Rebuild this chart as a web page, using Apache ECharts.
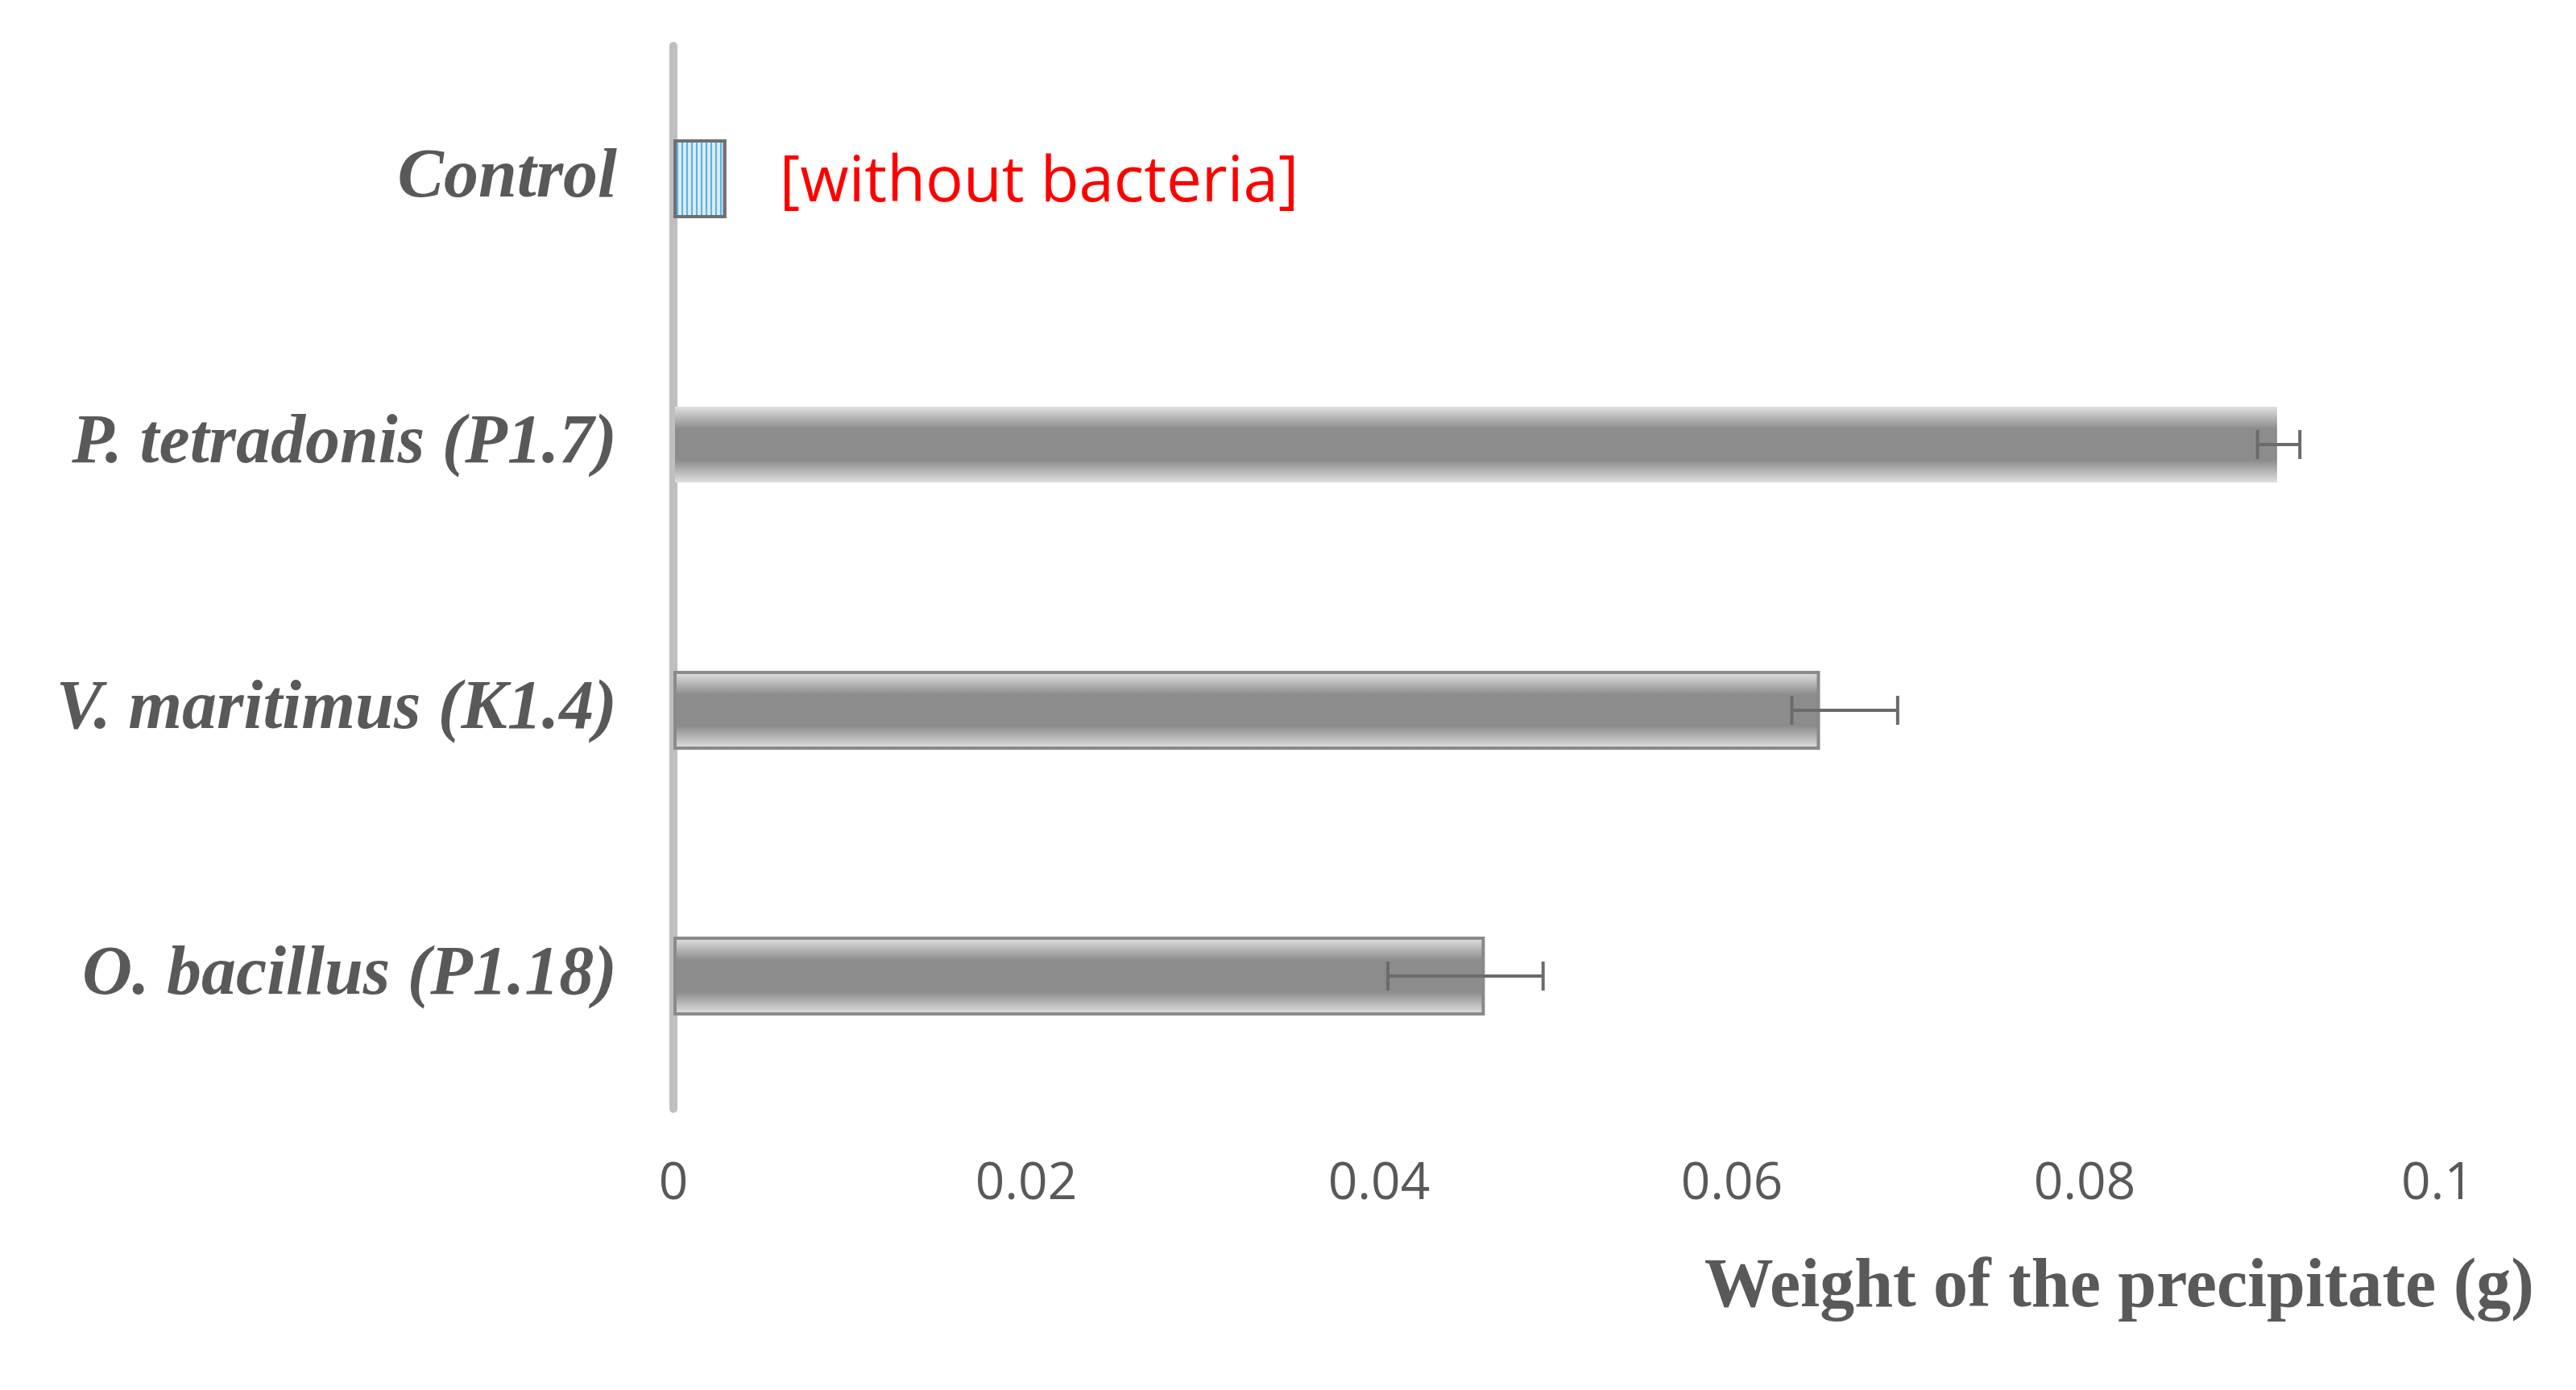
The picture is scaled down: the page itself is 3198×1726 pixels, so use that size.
<!DOCTYPE html>
<html>
<head>
<meta charset="utf-8">
<script src="https://cdn.jsdelivr.net/npm/echarts@6/dist/echarts.min.js"></script>
<style>html,body{margin:0;padding:0;background:#fff}#c{width:3198px;height:1726px}</style>
</head>
<body>
<div id="c"></div>
<script>
var categories = ['Control', 'P. tetradonis (P1.7)', 'V. maritimus (K1.4)', 'O. bacillus (P1.18)'];
var values = [0.003, 0.091, 0.065, 0.046];
var errLow = [null, 0.0898, 0.0634, 0.0405];
var errHigh = [null, 0.0922, 0.0694, 0.0493];
var xTicks = [0, 0.02, 0.04, 0.06, 0.08, 0.1];

var chart = echarts.init(document.getElementById('c'));

var grayFill = new echarts.graphic.LinearGradient(0, 0, 0, 1, [
	{ offset: 0, color: '#e6e6e6' },
	{ offset: 0.3, color: '#8c8c8c' },
	{ offset: 0.7, color: '#8c8c8c' },
	{ offset: 1, color: '#e6e6e6' }
]);

var barData = values.map(function (v, i) {
	if (i == 0) {
		return {
			value: v,
			itemStyle: {
				color: '#d6ecfa', borderColor: '#707070', borderWidth: 4,
				decal: { symbol: 'rect', symbolSize: 1, dashArrayX: [2, 4], dashArrayY: [100, 0], color: '#5fb0e3', rotation: 0 }
			},
			label: {
				show: true, position: 'right', distance: 66,
				formatter: '[without bacteria]', color: '#ff0000',
				fontFamily: 'Open Sans', fontSize: 78, offset: [0, 6]
			}
		};
	}
	return { value: v, itemStyle: { color: grayFill, borderColor: i == 1 ? 'rgba(0,0,0,0)' : '#8a8a8a', borderWidth: 4 } };
});

var errData = [];
for (var i = 0; i < categories.length; i++) {
	if (errLow[i] != null) errData.push([i, errLow[i], errHigh[i]]);
}

chart.setOption({
	backgroundColor: '#ffffff',
	animation: false,
	grid: { left: 836, right: 172, top: 57, bottom: 349 },
	xAxis: {
		type: 'value', min: 0, max: 0.1, interval: 0.02,
		splitLine: { show: false }, axisLine: { show: false }, axisTick: { show: false },
		axisLabel: {
			margin: 62, color: '#595959', fontFamily: 'Open Sans', fontSize: 64,
			formatter: function (v) { return String(Math.round(v * 100) / 100); }
		},
		name: 'Weight of the precipitate (g)', nameLocation: 'end', nameGap: 0,
		nameTextStyle: {
			color: '#595959', fontFamily: 'Liberation Serif', fontWeight: 'bold', fontSize: 86,
			align: 'right', verticalAlign: 'top', padding: [180, -120, 0, 0]
		}
	},
	yAxis: {
		type: 'category', data: categories, inverse: true,
		axisLine: { lineStyle: { color: '#bfbfbf', width: 10 } },
		axisTick: { show: false },
		axisLabel: {
			margin: 70, color: '#595959', fontFamily: 'Liberation Serif',
			fontWeight: 'bold', fontStyle: 'italic', fontSize: 86
		}
	},
	series: [{
		type: 'bar', data: barData, barWidth: 98, z: 2
	}, {
		type: 'custom', z: 5, data: errData,
		renderItem: function (params, api) {
			var y = api.value(0);
			var a = api.coord([api.value(1), y]);
			var b = api.coord([api.value(2), y]);
			var h = 18;
			var st = { stroke: '#6b6b6b', lineWidth: 4 };
			return {
				type: 'group', children: [
					{ type: 'line', shape: { x1: a[0], y1: a[1], x2: b[0], y2: b[1] }, style: st },
					{ type: 'line', shape: { x1: a[0], y1: a[1] - h, x2: a[0], y2: a[1] + h }, style: st },
					{ type: 'line', shape: { x1: b[0], y1: b[1] - h, x2: b[0], y2: b[1] + h }, style: st }
				]
			};
		}
	}]
});
</script>
</body>
</html>
